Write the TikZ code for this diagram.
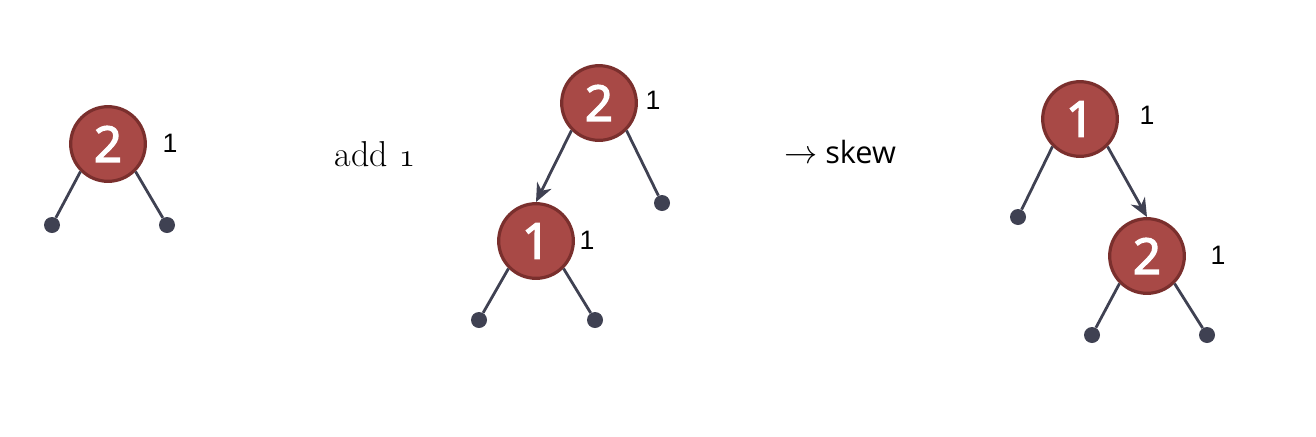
\documentclass[tikz,border=0pt]{standalone}
\usepackage{fontspec}
\usepackage{tikz}
\usetikzlibrary{arrows.meta}
\newfontfamily\keyfont[FakeBold=3]{Open Sans}
\newfontfamily\skewfont{Open Sans}
\newfontfamily\rankfont{Liberation Sans}
\definecolor{keyfill}{HTML}{A84946}
\definecolor{keyline}{HTML}{7A2F2D}
\definecolor{edgecol}{HTML}{3F4152}
\tikzset{
  key/.style={circle, fill=keyfill, draw=keyline, line width=2.4pt,
    minimum size=56pt, inner sep=0pt, text=white,
    font=\keyfont\fontsize{37}{40}\selectfont},
  leaf/.style={circle, fill=edgecol, minimum size=12pt, inner sep=0pt},
  rank/.style={font=\rankfont\fontsize{20}{22}\selectfont},
  branch/.style={draw=edgecol, line width=2.1pt},
  child/.style={branch, -{Stealth[length=14pt, width=12pt, inset=4.5pt]}}
}
\begin{document}
\begin{tikzpicture}[x=0.75pt, y=-0.75pt]
  \useasboundingbox (0,0) rectangle (1316,436);

  % first tree
  \node[key] (a0) at (108,144) {2};
  \node[rank] (ra0) at (170,143) {1};
  \node[leaf] (la0) at (52,225) {};
  \node[leaf] (ma0) at (167,225) {};
  \draw[branch] (a0.south west) -- (la0);
  \draw[branch] (a0.south east) -- (ma0);

  \node[font=\fontsize{27}{30}\selectfont] (add) at (375,154) {add $\mathnormal{1}$};

  % second tree
  \node[key] (b0) at (599,103) {2};
  \node[rank] (rb0) at (653,100) {1};
  \node[key] (b1) at (536,241) {1};
  \node[rank] (rb1) at (587,240) {1};
  \node[leaf] (mb0) at (662,203) {};
  \node[leaf] (lb1) at (479,320) {};
  \node[leaf] (mb1) at (595,320) {};
  \draw[child] (b0.south west) -- (b1.north);
  \draw[branch] (b0.south east) -- (mb0);
  \draw[branch] (b1.south west) -- (lb1);
  \draw[branch] (b1.south east) -- (mb1);

  \node[font=\skewfont\fontsize{23}{26}\selectfont] (skew) at (840,152)
    {{\fontsize{27}{30}\selectfont$\rightarrow$} skew};

  % third tree
  \node[key] (c0) at (1080,119) {1};
  \node[rank] (rc0) at (1147,115) {1};
  \node[key] (c1) at (1147,256) {2};
  \node[rank] (rc1) at (1218,255) {1};
  \node[leaf] (lc0) at (1018,217) {};
  \node[leaf] (lc1) at (1092,335) {};
  \node[leaf] (mc1) at (1207,335) {};
  \draw[branch] (c0.south west) -- (lc0);
  \draw[child] (c0.south east) -- (c1.north);
  \draw[branch] (c1.south west) -- (lc1);
  \draw[branch] (c1.south east) -- (mc1);
\end{tikzpicture}
\end{document}
